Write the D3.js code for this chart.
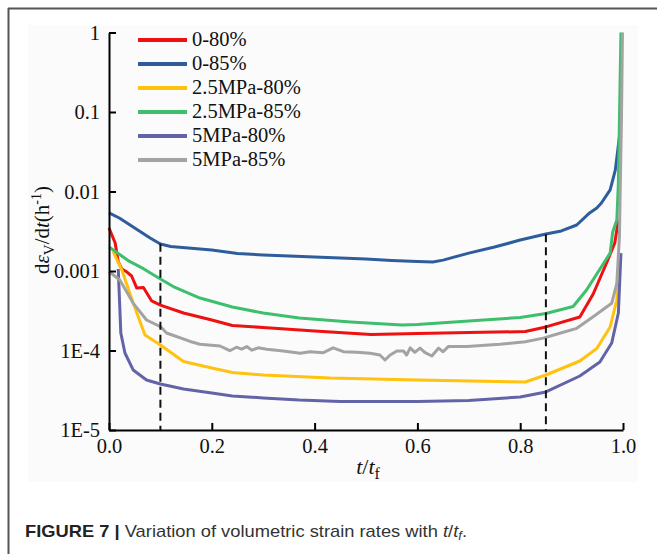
<!DOCTYPE html>
<html>
<head>
<meta charset="utf-8">
<script src="https://cdn.jsdelivr.net/npm/d3@7"></script>
<style>
  html, body { margin: 0; padding: 0; background: #fff; }
  svg { display: block; }
</style>
</head>
<body>
<div id="chart"></div>
<script>
// data (t/tf, volumetric strain rate)
var seriesNames = ["0-80%", "0-85%", "2.5MPa-80%", "2.5MPa-85%", "5MPa-80%", "5MPa-85%"];
var seriesColors = ["#ee1111", "#2e5d9b", "#ffc20e", "#3dbf6d", "#6264a7", "#a3a3a3"];

var tRed = [0, 0.012, 0.018, 0.025, 0.035, 0.044, 0.054, 0.067, 0.083, 0.1, 0.145, 0.2, 0.24, 0.3, 0.4, 0.51, 0.6, 0.7, 0.81, 0.85, 0.916, 0.942, 0.968, 0.984, 0.991];
var vRed = [0.00347, 0.00225, 0.0013, 0.00106, 0.00097, 0.000865, 0.00061, 0.00062, 0.00042, 0.000373, 0.000296, 0.000242, 0.000206, 0.000195, 0.000176, 0.000159, 0.000164, 0.000168, 0.000173, 0.000198, 0.000264, 0.000514, 0.00126, 0.00225, 0.00438];

var tBlue = [0, 0.02, 0.05, 0.08, 0.1, 0.12, 0.2, 0.25, 0.3, 0.4, 0.5, 0.55, 0.6, 0.63, 0.65, 0.7, 0.75, 0.8, 0.85, 0.88, 0.91, 0.935, 0.949, 0.958, 0.975, 0.985, 0.993];
var vBlue = [0.00537, 0.00464, 0.00347, 0.0026, 0.00219, 0.00203, 0.00184, 0.00166, 0.00159, 0.0015, 0.00142, 0.00136, 0.00132, 0.0013, 0.00137, 0.00168, 0.002, 0.00245, 0.00292, 0.00319, 0.00379, 0.00537, 0.0062, 0.00716, 0.0105, 0.0186, 0.0485];

var tYellow = [0.008, 0.025, 0.047, 0.07, 0.1, 0.145, 0.2, 0.24, 0.3, 0.43, 0.6, 0.81, 0.85, 0.916, 0.949, 0.975, 0.988, 0.994];
var vYellow = [0.00176, 0.00103, 0.000395, 0.000157, 0.000117, 7.28e-5, 6.03e-5, 5.29e-5, 4.92e-5, 4.51e-5, 4.26e-5, 4.02e-5, 4.92e-5, 7.38e-5, 0.000106, 0.000198, 0.000432, 0.00137];

var tGreen = [0, 0.04, 0.067, 0.1, 0.125, 0.177, 0.24, 0.3, 0.37, 0.47, 0.57, 0.6, 0.7, 0.8, 0.85, 0.903, 0.929, 0.949, 0.975, 0.98, 0.988, 0.991, 0.996];
var vGreen = [0.002, 0.00132, 0.00107, 0.000792, 0.000638, 0.000457, 0.000352, 0.000296, 0.000256, 0.000228, 0.000209, 0.000212, 0.000235, 0.00026, 0.000292, 0.000357, 0.000577, 0.000917, 0.00168, 0.0031, 0.00438, 0.0128, 1.0];

var tPurple = [0.018, 0.023, 0.031, 0.047, 0.073, 0.1, 0.145, 0.2, 0.24, 0.3, 0.37, 0.45, 0.6, 0.7, 0.8, 0.85, 0.916, 0.955, 0.978, 0.991, 0.996];
var vPurple = [0.00106, 0.000166, 9.3e-5, 5.69e-5, 4.26e-5, 3.79e-5, 3.28e-5, 2.92e-5, 2.68e-5, 2.53e-5, 2.38e-5, 2.28e-5, 2.28e-5, 2.35e-5, 2.6e-5, 3.01e-5, 4.78e-5, 7.16e-5, 0.000124, 0.000296, 0.00168];

var tGray = [0, 0.021, 0.047, 0.073, 0.1, 0.112, 0.158, 0.177, 0.216, 0.235, 0.248, 0.258, 0.268, 0.278, 0.29, 0.307, 0.339, 0.372, 0.391, 0.417, 0.436, 0.456, 0.482, 0.508, 0.527, 0.537, 0.547, 0.56, 0.573, 0.579, 0.586, 0.595, 0.605, 0.615, 0.628, 0.641, 0.65, 0.66, 0.696, 0.761, 0.81, 0.845, 0.877, 0.91, 0.942, 0.978, 0.988, 0.993, 0.997, 0.999];
var vGray = [0.000986, 0.00077, 0.000395, 0.000242, 0.0002, 0.000166, 0.00013, 0.00012, 0.000114, 9.94e-5, 0.00011, 0.000104, 0.000112, 0.000101, 0.000108, 0.000104, 9.86e-5, 9.22e-5, 9.66e-5, 9.38e-5, 0.000108, 9.66e-5, 9.49e-5, 9.22e-5, 8.77e-5, 7.6e-5, 8.77e-5, 9.86e-5, 9.86e-5, 8.77e-5, 0.000108, 9.49e-5, 0.000107, 9.38e-5, 8.53e-5, 0.000107, 9.66e-5, 0.000112, 0.000112, 0.00012, 0.000129, 0.000143, 0.000165, 0.00019, 0.000266, 0.000392, 0.0007, 0.0027, 0.0794, 1.0];

var seriesT = [tRed, tBlue, tYellow, tGreen, tPurple, tGray];
var seriesV = [vRed, vBlue, vYellow, vGreen, vPurple, vGray];

// vertical dashed markers: position on t/tf and the rate where they start
var dashT = [0.1, 0.85];
var dashV = [0.0022, 0.0029];

var xTicks = [0, 0.2, 0.4, 0.6, 0.8, 1.0];
var yTicks = [1e-5, 1e-4, 1e-3, 1e-2, 1e-1, 1];
var yTickLabels = ["1E-5", "1E-4", "0.001", "0.01", "0.1", "1"];

var W = 657, H = 554;
var serif = "'Liberation Serif','Times New Roman',serif";

var svg = d3.select("#chart").append("svg")
    .attr("width", W)
    .attr("height", H);

// figure frame (only top and left edges visible)
svg.append("rect").attr("x", 28).attr("y", 25).attr("width", 610).attr("height", 457)
    .attr("fill", "#fbfbfb");
svg.append("line").attr("x1", 8).attr("y1", 8.5).attr("x2", W).attr("y2", 8.5)
    .attr("stroke", "#555").attr("stroke-width", 2);
svg.append("line").attr("x1", 8.5).attr("y1", 8).attr("x2", 8.5).attr("y2", H)
    .attr("stroke", "#555").attr("stroke-width", 2);

var x = d3.scaleLinear().domain([0, 1]).range([109, 623]);
var y = d3.scaleLog().domain([1e-5, 1]).range([430, 32.5]);

// series lines
var line = d3.line()
    .x(function (d) { return x(d[0]); })
    .y(function (d) { return y(d[1]); });

var gLines = svg.append("g");
seriesNames.forEach(function (name, i) {
    gLines.append("path")
        .attr("d", line(d3.zip(seriesT[i], seriesV[i])))
        .attr("fill", "none")
        .attr("stroke", seriesColors[i])
        .attr("stroke-width", 3)
        .attr("stroke-linejoin", "round");
});

// dashed markers
svg.append("g").selectAll("line")
    .data(dashT)
    .enter()
    .append("line")
    .attr("x1", function (d) { return x(d); })
    .attr("x2", function (d) { return x(d); })
    .attr("y1", function (d, i) { return y(dashV[i]); })
    .attr("y2", y(1e-5))
    .attr("stroke", "#111")
    .attr("stroke-width", 2)
    .attr("stroke-dasharray", "8,5");

// axes
var xAxis = d3.axisBottom(x)
    .tickValues(xTicks)
    .tickFormat(d3.format(".1f"))
    .tickSizeInner(-7)
    .tickSizeOuter(0)
    .tickPadding(8);
var yAxis = d3.axisLeft(y)
    .tickValues(yTicks)
    .tickFormat(function (d, i) { return yTickLabels[i]; })
    .tickSizeInner(-7)
    .tickSizeOuter(0)
    .tickPadding(9);

var gx = svg.append("g").attr("transform", "translate(0," + y(1e-5) + ")").call(xAxis);
var gy = svg.append("g").attr("transform", "translate(" + x(0) + ",0)").call(yAxis);
[gx, gy].forEach(function (g) {
    g.select(".domain").attr("stroke", "#000").attr("stroke-width", 2);
    g.selectAll(".tick line").attr("stroke", "#000").attr("stroke-width", 2);
    g.selectAll(".tick text")
        .attr("fill", "#111")
        .style("font-family", serif)
        .style("font-size", "20.5px");
});

// axis titles
var xt = svg.append("text")
    .attr("x", 368).attr("y", 474)
    .attr("text-anchor", "middle")
    .style("font-family", serif).style("font-size", "22px").attr("fill", "#111");
xt.append("tspan").style("font-style", "italic").text("t");
xt.append("tspan").text("/");
xt.append("tspan").style("font-style", "italic").text("t");
xt.append("tspan").attr("dy", 5).style("font-size", "16px").text("f");

var yt = svg.append("text")
    .attr("transform", "translate(49,230) rotate(-90)")
    .attr("text-anchor", "middle")
    .style("font-family", serif).style("font-size", "21px").attr("fill", "#111");
yt.append("tspan").text("d");
yt.append("tspan").style("font-style", "italic").text("ε");
yt.append("tspan").attr("dy", 5).style("font-size", "15px").text("V");
yt.append("tspan").attr("dy", -5).text("/d");
yt.append("tspan").style("font-style", "italic").text("t");
yt.append("tspan").text("(h");
yt.append("tspan").attr("dy", -8).style("font-size", "14px").text("-1");
yt.append("tspan").attr("dy", 8).text(")");

// legend
var legend = svg.append("g");
seriesNames.forEach(function (name, i) {
    var ly = 40 + i * 24;
    legend.append("line")
        .attr("x1", 138).attr("x2", 187)
        .attr("y1", ly).attr("y2", ly)
        .attr("stroke", seriesColors[i])
        .attr("stroke-width", 4);
    legend.append("text")
        .attr("x", 192).attr("y", ly + 6)
        .style("font-family", serif).style("font-size", "20.5px")
        .attr("fill", "#111")
        .text(name);
});

// caption
var cap = svg.append("text")
    .attr("x", 25).attr("y", 537)
    .attr("textLength", 442)
    .attr("lengthAdjust", "spacingAndGlyphs")
    .style("font-family", "'Liberation Sans Narrow','Liberation Sans',Arial,sans-serif")
    .style("font-size", "17px")
    .attr("fill", "#333");
cap.append("tspan").style("font-weight", "bold").attr("fill", "#222").text("FIGURE 7 | ");
cap.append("tspan").text("Variation of volumetric strain rates with ");
cap.append("tspan").style("font-style", "italic").text("t");
cap.append("tspan").text("/");
cap.append("tspan").style("font-style", "italic").text("t");
cap.append("tspan").style("font-style", "italic").style("font-size", "12px").attr("dy", 3).text("f");
cap.append("tspan").attr("dy", -3).text(".");
</script>
</body>
</html>
